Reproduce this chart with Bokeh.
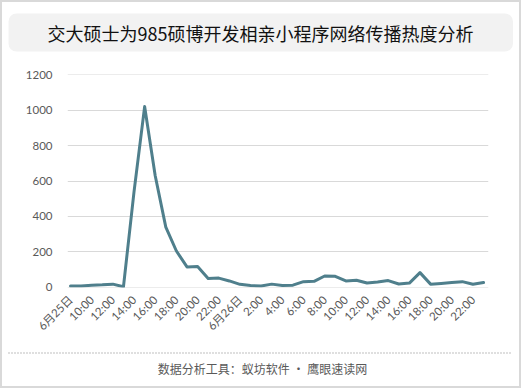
import math
from bokeh.plotting import figure
from bokeh.layouts import column
from bokeh.models import Range1d, FixedTicker, BoxAnnotation, ColumnDataSource
from bokeh.core.properties import value
from bokeh.embed import file_html
from bokeh.resources import INLINE

# ---- data ----
title_text = "交大硕士为985硕博开发相亲小程序网络传播热度分析"
footer_text = "数据分析工具：蚁坊软件 · 鹰眼速读网"
hours = [
    "6月25日 8:00", "9:00", "10:00", "11:00", "12:00", "13:00", "14:00", "15:00",
    "16:00", "17:00", "18:00", "19:00", "20:00", "21:00", "22:00", "23:00",
    "6月26日 0:00", "1:00", "2:00", "3:00", "4:00", "5:00", "6:00", "7:00",
    "8:00", "9:00", "10:00", "11:00", "12:00", "13:00", "14:00", "15:00",
    "16:00", "17:00", "18:00", "19:00", "20:00", "21:00", "22:00", "23:00",
]
heat = [
    8, 8, 12, 14, 18, 3, 540, 1020, 630, 340, 205, 115, 118, 50, 52, 36,
    17, 10, 7, 18, 10, 12, 32, 34, 64, 62, 36, 40, 24, 30, 38, 19,
    24, 83, 18, 22, 27, 32, 17, 27,
]
tick_labels = [
    "6月25日", "10:00", "12:00", "14:00", "16:00", "18:00", "20:00", "22:00",
    "6月26日", "2:00", "4:00", "6:00", "8:00", "10:00", "12:00", "14:00",
    "16:00", "18:00", "20:00", "22:00",
]
y_ticks = [0, 200, 400, 600, 800, 1000, 1200]

W = 517
CJK = "Noto Sans CJK SC"
GRAY = "#595959"

# ---- header ----
h = figure(width=W, height=56, output_backend="svg", toolbar_location=None,
           x_range=Range1d(0, W), y_range=Range1d(56, 0),
           min_border=0, outline_line_color=None, frame_align=False)
h.axis.visible = False
h.grid.visible = False
h.add_layout(BoxAnnotation(left=6, right=510.5, top=11, bottom=49,
                           fill_color="#f2f2f2", fill_alpha=1,
                           line_color=None, border_radius=8,
                           level="underlay"))
h.text(x=[258], y=[30.5], text=[title_text], text_align="center",
       text_baseline="middle", text_font=value(CJK),
       text_font_size="18px", text_color="#111111")

# ---- main chart ----
xs = list(range(len(heat)))
src = ColumnDataSource(dict(x=xs, y=heat, label=hours))
p = figure(width=W, height=287, output_backend="svg", toolbar_location=None,
           x_range=Range1d(-0.283, 39.47), y_range=Range1d(-1, 1201),
           min_border_left=65, min_border_right=31,
           min_border_top=16, min_border_bottom=58,
           outline_line_color=None, frame_align=False)
p.line("x", "y", source=src, line_color="#4f7f8c", line_width=3,
       line_join="round", line_cap="round")

p.xgrid.visible = False
p.ygrid.grid_line_color = "#d9d9d9"
p.ygrid.grid_line_width = 1
p.ygrid.ticker = FixedTicker(ticks=y_ticks)

p.yaxis.ticker = FixedTicker(ticks=y_ticks)
p.yaxis.axis_line_color = None
p.yaxis.major_tick_line_color = None
p.yaxis.minor_tick_line_color = None
p.yaxis.major_label_standoff = 9
p.yaxis.major_label_text_font = "Lato"
p.yaxis.major_label_text_font_size = "11.5px"
p.yaxis.major_label_text_color = GRAY

xt = list(range(0, 40, 2))
p.xaxis.ticker = FixedTicker(ticks=xt)
p.xaxis.major_label_overrides = {t: lab for t, lab in zip(xt, tick_labels)}
p.xaxis.major_label_orientation = math.pi / 4
p.xaxis.axis_line_color = None
p.xaxis.major_tick_line_color = None
p.xaxis.minor_tick_line_color = None
p.xaxis.major_label_standoff = 4
p.xaxis.major_label_text_font = "Lato, 'Noto Sans CJK SC'"
p.xaxis.major_label_text_font_size = "11.5px"
p.xaxis.major_label_text_color = GRAY

# ---- footer ----
f = figure(width=W, height=41, output_backend="svg", toolbar_location=None,
           x_range=Range1d(0, W), y_range=Range1d(41, 0),
           min_border=0, outline_line_color=None, frame_align=False)
f.axis.visible = False
f.grid.visible = False
f.segment(x0=[6], y0=[7.5], x1=[510], y1=[7.5], line_color="#7f7f7f",
          line_width=1, line_dash="1 2")
f.text(x=[260], y=[23], text=[footer_text], text_align="center",
       text_baseline="middle", text_font=value(CJK),
       text_font_size="12px", text_color=GRAY)

layout = column(h, p, f, spacing=0,
                styles={"border": "2px solid #d9d9d9"})
open("out.html", "w").write(file_html(layout, INLINE))
